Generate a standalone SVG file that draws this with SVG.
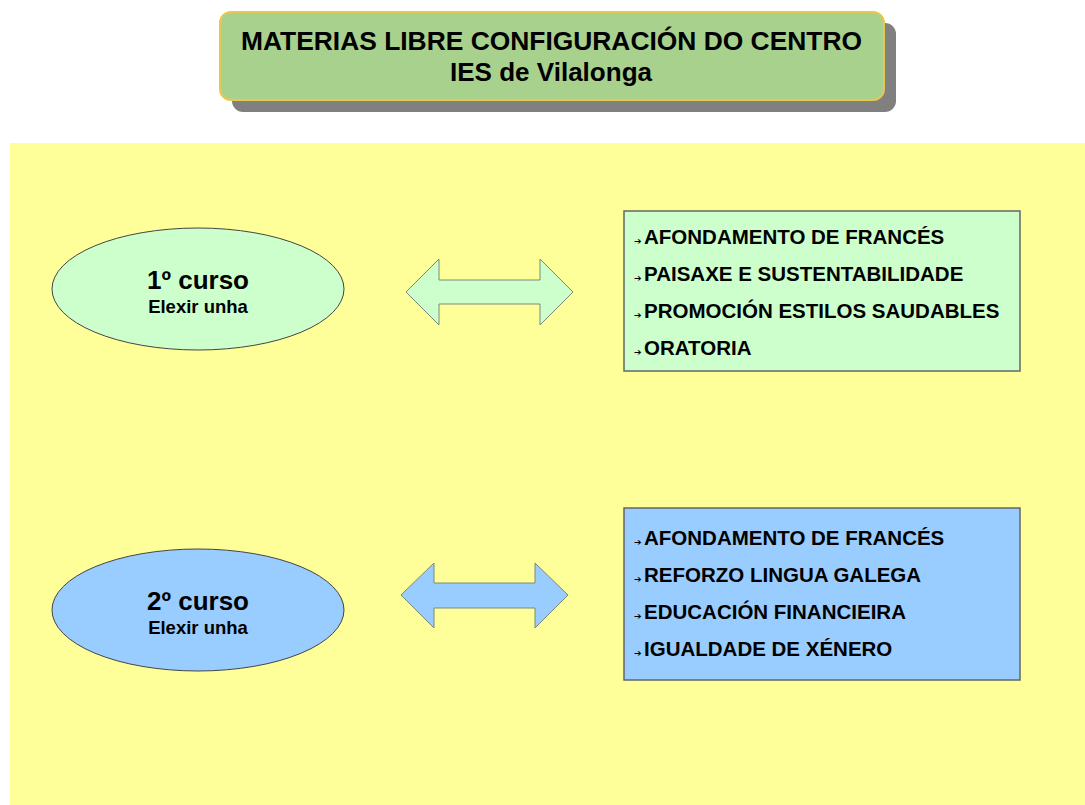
<svg xmlns="http://www.w3.org/2000/svg" width="1085" height="805" viewBox="0 0 1085 805">
<style>
text{font-family:"Liberation Sans",Arial,sans-serif;font-weight:bold;fill:#000}
.title{font-size:26.5px}
.head{font-size:26px}
.sub{font-size:18.5px}
.item{font-size:20.5px}
.bul{font-family:"DejaVu Sans",sans-serif;font-size:9px}
.box{stroke:#666;stroke-width:1.5}
.ell{stroke:#444;stroke-width:1}
.arr{stroke:#7a8a7a;stroke-width:1}
</style>
<rect x="0" y="0" width="1085" height="805" fill="#fff"/>
<rect id="background" x="10" y="143" width="1075" height="662" fill="#FFFF99"/>
<g id="title">
<rect x="232" y="23" width="664" height="89" rx="11" fill="#808080"/>
<rect x="220" y="12" width="664" height="88" rx="11" fill="#A9D18E" stroke="#E6C850" stroke-width="2"/>
<text class="title" x="241" y="49.5" textLength="621" lengthAdjust="spacingAndGlyphs">MATERIAS LIBRE CONFIGURACIÓN DO CENTRO</text>
<text class="title" x="450" y="81" textLength="202" lengthAdjust="spacingAndGlyphs">IES de Vilalonga</text>
</g>
<g id="curso1">
<ellipse class="ell" cx="198" cy="289" rx="146" ry="61" fill="#CCFFCC"/>
<text class="head" x="198" y="289" text-anchor="middle">1º curso</text>
<text class="sub" x="198" y="313" text-anchor="middle">Elexir unha</text>
</g>
<g id="curso2">
<ellipse class="ell" cx="198" cy="610" rx="146" ry="61" fill="#99CCFF"/>
<text class="head" x="198" y="610" text-anchor="middle">2º curso</text>
<text class="sub" x="198" y="634" text-anchor="middle">Elexir unha</text>
</g>
<g id="connectors">
<path class="arr" fill="#CCFFCC" d="M406,292 L439,259 L439,280 L540,280 L540,259 L573,292 L540,325 L540,304 L439,304 L439,325 Z"/>
<path class="arr" fill="#99CCFF" d="M401,595 L434,563 L434,583 L535,583 L535,563 L568,595 L535,628 L535,608 L434,608 L434,628 Z"/>
</g>
<g id="materias1">
<rect class="box" x="624" y="211" width="396" height="160" fill="#CCFFCC"/>
<text class="bul" x="634" y="244">➔</text><text class="item" x="644" y="244">AFONDAMENTO DE FRANCÉS</text>
<text class="bul" x="634" y="281">➔</text><text class="item" x="644" y="281">PAISAXE  E SUSTENTABILIDADE</text>
<text class="bul" x="634" y="318">➔</text><text class="item" x="644" y="318">PROMOCIÓN  ESTILOS  SAUDABLES</text>
<text class="bul" x="634" y="355">➔</text><text class="item" x="644" y="355">ORATORIA</text>
</g>
<g id="materias2">
<rect class="box" x="624" y="508" width="396" height="172" fill="#99CCFF"/>
<text class="bul" x="634" y="545">➔</text><text class="item" x="644" y="545">AFONDAMENTO DE FRANCÉS</text>
<text class="bul" x="634" y="582">➔</text><text class="item" x="644" y="582">REFORZO  LINGUA GALEGA</text>
<text class="bul" x="634" y="619">➔</text><text class="item" x="644" y="619">EDUCACIÓN  FINANCIEIRA</text>
<text class="bul" x="634" y="656">➔</text><text class="item" x="644" y="656">IGUALDADE DE XÉNERO</text>
</g>
</svg>
